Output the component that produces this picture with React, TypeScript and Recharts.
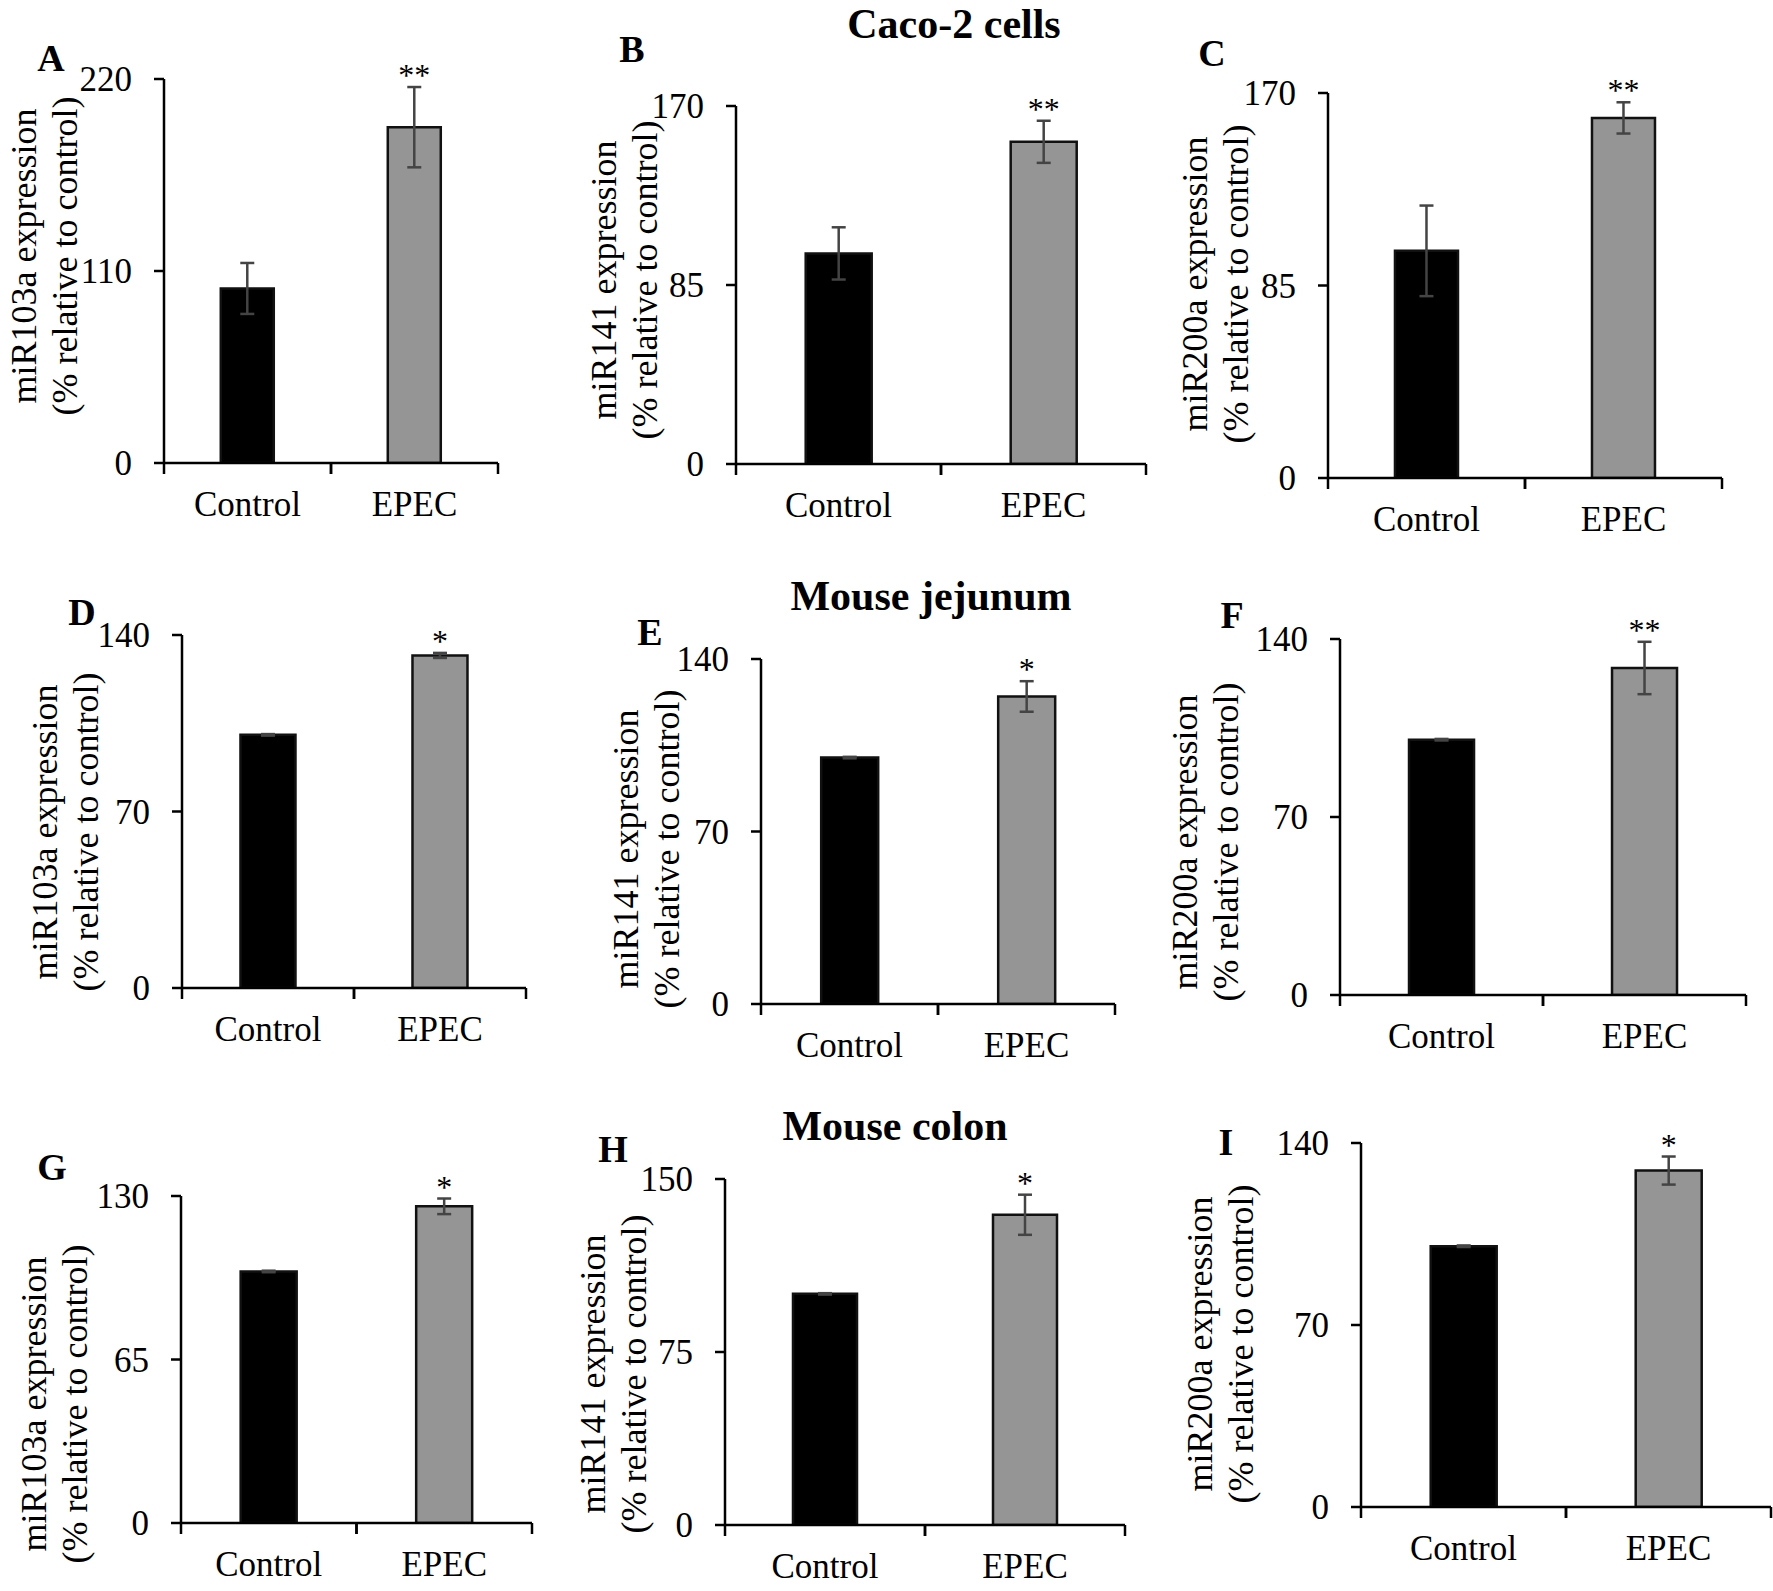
import React from 'react';
import { BarChart, Bar, XAxis, YAxis, ErrorBar, Cell } from 'recharts';

// ---- data ----
const categories = ['Control', 'EPEC'];

const cacoMiR103a = [100, 192.4];
const cacoMiR103aErr = [14.6, 23];
const cacoMiR141 = [100, 153];
const cacoMiR141Err = [12.4, 10];
const cacoMiR200a = [100.3, 159];
const cacoMiR200aErr = [20, 6.9];

const jejMiR103a = [100.4, 131.9];
const jejMiR103aErr = [0.3, 1];
const jejMiR141 = [100, 124.8];
const jejMiR141Err = [0.3, 6.2];
const jejMiR200a = [100.4, 128.6];
const jejMiR200aErr = [0.3, 10.3];

const colMiR103a = [100, 125.9];
const colMiR103aErr = [0.3, 3.1];
const colMiR141 = [100.2, 134.5];
const colMiR141Err = [0.3, 8.7];
const colMiR200a = [100.3, 129.4];
const colMiR200aErr = [0.3, 5.4];

const ticks220 = [0, 110, 220];
const ticks170 = [0, 85, 170];
const ticks140 = [0, 70, 140];
const ticks130 = [0, 65, 130];
const ticks150 = [0, 75, 150];

const starsDouble = ['', '**'];
const starsSingle = ['', '*'];

const label103a = 'miR103a expression';
const label141 = 'miR141 expression';
const label200a = 'miR200a expression';
const labelSub = '(% relative to control)';

// ---- layout ----
const FONT = '"Liberation Serif", "Times New Roman", Times, serif';
const YW = 160;
const MT = 40;
const MR = 20;
const XH = 80;
const LINE_GAP = 41;
const LABEL_SIZE = 36;

const panels = [
  { letter: 'A', lx: 51, ly: 71, axisX: 164, top: 79, zero: 463, right: 498, ticks: ticks220, values: cacoMiR103a, errs: cacoMiR103aErr, stars: starsDouble, title: label103a, labX: 77, labY: 256 },
  { letter: 'B', lx: 632, ly: 62, axisX: 736, top: 106, zero: 464, right: 1146, ticks: ticks170, values: cacoMiR141, errs: cacoMiR141Err, stars: starsDouble, title: label141, labX: 657, labY: 280 },
  { letter: 'C', lx: 1212, ly: 66, axisX: 1328, top: 93, zero: 478, right: 1722, ticks: ticks170, values: cacoMiR200a, errs: cacoMiR200aErr, stars: starsDouble, title: label200a, labX: 1248, labY: 284 },
  { letter: 'D', lx: 82, ly: 625, axisX: 182, top: 635, zero: 988, right: 526, ticks: ticks140, values: jejMiR103a, errs: jejMiR103aErr, stars: starsSingle, title: label103a, labX: 98, labY: 832 },
  { letter: 'E', lx: 650, ly: 645, axisX: 761, top: 659, zero: 1004, right: 1115, ticks: ticks140, values: jejMiR141, errs: jejMiR141Err, stars: starsSingle, title: label141, labX: 679, labY: 849 },
  { letter: 'F', lx: 1232, ly: 628, axisX: 1340, top: 639, zero: 995, right: 1746, ticks: ticks140, values: jejMiR200a, errs: jejMiR200aErr, stars: starsDouble, title: label200a, labX: 1238, labY: 842 },
  { letter: 'G', lx: 52, ly: 1180, axisX: 181, top: 1196, zero: 1523, right: 532, ticks: ticks130, values: colMiR103a, errs: colMiR103aErr, stars: starsSingle, title: label103a, labX: 87, labY: 1404 },
  { letter: 'H', lx: 613, ly: 1162, axisX: 725, top: 1179, zero: 1525, right: 1125, ticks: ticks150, values: colMiR141, errs: colMiR141Err, stars: starsSingle, title: label141, labX: 646, labY: 1374 },
  { letter: 'I', lx: 1226, ly: 1155, axisX: 1361, top: 1143, zero: 1507, right: 1771, ticks: ticks140, values: colMiR200a, errs: colMiR200aErr, stars: starsSingle, title: label200a, labX: 1253, labY: 1344 },
];

const groupTitles = [
  { text: 'Caco-2 cells', x: 954, y: 38 },
  { text: 'Mouse jejunum', x: 931, y: 610 },
  { text: 'Mouse colon', x: 895, y: 1140 },
];

function Panel({ cfg }: { cfg: any }) {
  const plotW = cfg.right - cfg.axisX;
  const plotH = cfg.zero - cfg.top;
  const bandHalf = plotW / categories.length / 2;
  const max = cfg.ticks[cfg.ticks.length - 1];
  const data = categories.map((name, i) => ({
    name,
    value: cfg.values[i],
    err: cfg.errs[i],
    star: cfg.stars[i],
  }));

  const XTick = (props: any) => {
    const { x, y, payload } = props;
    return (
      <g>
        <line x1={x - bandHalf} x2={x - bandHalf} y1={y} y2={y + 11} stroke="#000" strokeWidth={2.5} />
        <line x1={x + bandHalf} x2={x + bandHalf} y1={y} y2={y + 11} stroke="#000" strokeWidth={2.5} />
        <text x={x} y={y + 53} textAnchor="middle" fontSize={35} fontFamily={FONT} fill="#000">
          {payload.value}
        </text>
      </g>
    );
  };

  const renderStar = (props: any) => {
    const vb = props.viewBox || {};
    const x = props.x ?? vb.x;
    const y = props.y ?? vb.y;
    const width = props.width ?? vb.width;
    const height = props.height ?? vb.height;
    const d = data[props.index];
    if (!d || !d.star) return null;
    const errTop = y - (d.err * height) / d.value;
    return (
      <text x={x + width / 2} y={errTop - 1} textAnchor="middle" fontSize={32} fontFamily={FONT} fill="#000">
        {d.star}
      </text>
    );
  };

  return (
    <div style={{ position: 'absolute', left: cfg.axisX - YW, top: cfg.top - MT }}>
      <BarChart
        width={plotW + YW + MR}
        height={plotH + MT + XH}
        data={data}
        margin={{ top: MT, right: MR, bottom: 0, left: 0 }}
        barCategoryGap="34%"
      >
        <XAxis
          dataKey="name"
          height={XH}
          interval={0}
          axisLine={{ stroke: '#000', strokeWidth: 2.5 }}
          tickLine={false}
          tickSize={0}
          tickMargin={0}
          tick={<XTick />}
        />
        <YAxis
          width={YW}
          type="number"
          domain={[0, max]}
          ticks={cfg.ticks}
          interval={0}
          allowDataOverflow
          axisLine={{ stroke: '#000', strokeWidth: 2.5 }}
          tickLine={{ stroke: '#000', strokeWidth: 2.5 }}
          tickSize={10}
          tickMargin={22}
          tick={{ fontSize: 35, fill: '#000', fontFamily: FONT }}
        />
        <Bar dataKey="value" isAnimationActive={false} stroke="#111" strokeWidth={2.5} label={renderStar}>
          {data.map((d, i) => (
            <Cell key={d.name} fill={i === 0 ? '#000000' : '#959595'} />
          ))}
          <ErrorBar dataKey="err" direction="y" width={7} stroke="#444" strokeWidth={2.5} isAnimationActive={false} />
        </Bar>
      </BarChart>
    </div>
  );
}

export default function App() {
  return (
    <div
      style={{
        position: 'absolute',
        left: 0,
        top: 0,
        width: 1773,
        height: 1591,
        background: '#fff',
        overflow: 'hidden',
        fontFamily: FONT,
      }}
    >
      {panels.map((p) => (
        <Panel key={p.letter} cfg={p} />
      ))}
      <svg width={1773} height={1591} style={{ position: 'absolute', left: 0, top: 0, pointerEvents: 'none' }}>
        {groupTitles.map((t) => (
          <text key={t.text} x={t.x} y={t.y} textAnchor="middle" fontSize={42} fontWeight="bold" fontFamily={FONT} fill="#000">
            {t.text}
          </text>
        ))}
        {panels.map((p) => (
          <g key={p.letter}>
            <text x={p.lx} y={p.ly} textAnchor="middle" fontSize={38} fontWeight="bold" fontFamily={FONT} fill="#000">
              {p.letter}
            </text>
            <text transform={`translate(${p.labX - LINE_GAP},${p.labY}) rotate(-90)`} textAnchor="middle" fontSize={LABEL_SIZE} fontFamily={FONT} fill="#000">
              {p.title}
            </text>
            <text transform={`translate(${p.labX},${p.labY}) rotate(-90)`} textAnchor="middle" fontSize={LABEL_SIZE} fontFamily={FONT} fill="#000">
              {labelSub}
            </text>
          </g>
        ))}
      </svg>
    </div>
  );
}
